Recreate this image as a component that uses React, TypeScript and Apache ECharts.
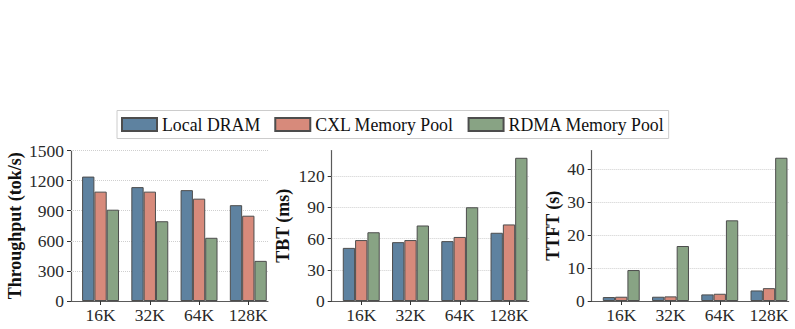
import React, { useEffect, useRef } from "react";
import * as echarts from "echarts";

// Context lengths on the x axis
const categories = ["16K", "32K", "64K", "128K"];
const seriesNames = ["Local DRAM", "CXL Memory Pool", "RDMA Memory Pool"];

// Throughput (tok/s)
const throughputLocal = [1240, 1135, 1105, 955];
const throughputCxl = [1090, 1090, 1020, 850];
const throughputRdma = [910, 795, 630, 400];

// Time between tokens (ms)
const tbtLocal = [51, 56.5, 57.5, 65.5];
const tbtCxl = [58.5, 58.5, 61.5, 73.5];
const tbtRdma = [66, 72.5, 90, 137.5];

// Time to first token (s)
const ttftLocal = [1.2, 1.3, 2.0, 3.2];
const ttftCxl = [1.3, 1.4, 2.2, 3.9];
const ttftRdma = [9.4, 16.7, 24.5, 43.5];

// Tick values of the three y axes
const throughputTicks = [0, 300, 600, 900, 1200, 1500];
const tbtTicks = [0, 30, 60, 90, 120];
const ttftTicks = [0, 10, 20, 30, 40];

const COLORS = ["#5e82a0", "#d78a7b", "#88a384"];
const FONT = "Liberation Serif, Times New Roman, serif";

const panels = [
  { name: "Throughput (tok/s)", data: [throughputLocal, throughputCxl, throughputRdma], ticks: throughputTicks, max: 1500, left: 71, nameGap: 47 },
  { name: "TBT (ms)", data: [tbtLocal, tbtCxl, tbtRdma], ticks: tbtTicks, max: 144.5, left: 331.7, nameGap: 40 },
  { name: "TTFT (s)", data: [ttftLocal, ttftCxl, ttftRdma], ticks: ttftTicks, max: 45.7, left: 591.7, nameGap: 30 },
];

const catIndex = categories.map((_, i) => i);

export default function App() {
  const ref = useRef<HTMLDivElement>(null);

  useEffect(() => {
    if (!ref.current) return;
    const chart = echarts.init(ref.current, undefined, { renderer: "svg" });

    const grid = panels.map((p) => ({
      left: p.left,
      top: 150.5,
      width: 197,
      height: 150.5,
      outerBoundsMode: "none",
    }));

    const xAxis = panels.map((_, i) => ({
      type: "value",
      gridIndex: i,
      min: -0.6,
      max: 3.4,
      axisLine: { show: true, onZero: false, lineStyle: { color: "#5a5a5a", width: 1.2 } },
      axisTick: { show: true, length: 4, customValues: catIndex, lineStyle: { color: "#333", width: 1 } },
      axisLabel: {
        customValues: catIndex,
        formatter: (v: number) => categories[Math.round(v)] ?? "",
        fontFamily: FONT,
        fontSize: 17.5,
        color: "#2a2a2a",
        margin: 5,
      },
      splitLine: { show: false },
    }));

    const yAxis = panels.map((p, i) => ({
      type: "value",
      gridIndex: i,
      min: 0,
      max: p.max,
      name: p.name,
      nameLocation: "middle",
      nameGap: p.nameGap,
      nameTextStyle: { fontFamily: FONT, fontSize: 18, fontWeight: "bold", color: "#111" },
      axisLine: { show: true, onZero: false, lineStyle: { color: "#5a5a5a", width: 1.2 } },
      axisTick: { show: true, length: 4, customValues: p.ticks, lineStyle: { color: "#333", width: 1 } },
      axisLabel: {
        customValues: p.ticks,
        formatter: (v: number) => String(v),
        fontFamily: FONT,
        fontSize: 17.5,
        color: "#2a2a2a",
        margin: 7,
      },
      splitLine: { show: false },
    }));

    const series: any[] = [];
    panels.forEach((p, pi) => {
      p.data.forEach((vals, si) => {
        series.push({
          type: "bar",
          name: seriesNames[si],
          xAxisIndex: pi,
          yAxisIndex: pi,
          barWidth: "25%",
          barGap: "0%",
          z: 3,
          itemStyle: { color: COLORS[si], borderColor: "#4d4d4d", borderWidth: 1 },
          data: vals.map((v, ci) => [ci, v]),
        });
      });
      // dotted horizontal grid lines at the labelled ticks
      series.push({
        type: "line",
        xAxisIndex: pi,
        yAxisIndex: pi,
        data: [],
        z: 1,
        silent: true,
        markLine: {
          silent: true,
          symbol: ["none", "none"],
          label: { show: false },
          z: 1,
          lineStyle: { type: "dotted", color: "#cfcfcf", width: 1 },
          data: p.ticks.filter((t) => t > 0).map((t) => ({ yAxis: t })),
        },
      });
    });

    chart.setOption({
      animation: false,
      backgroundColor: "#ffffff",
      textStyle: { fontFamily: FONT },
      legend: {
        data: seriesNames,
        left: 117,
        top: 110.5,
        icon: "rect",
        itemWidth: 35,
        itemHeight: 13,
        itemGap: 14,
        padding: [5, 4, 5, 4],
        borderColor: "#cccccc",
        borderWidth: 1,
        textStyle: { fontFamily: FONT, fontSize: 17.8, color: "#111" },
      },
      grid,
      xAxis,
      yAxis,
      series,
    });

    return () => chart.dispose();
  }, []);

  return (
    <div
      ref={ref}
      style={{ position: "fixed", left: 0, top: 0, width: 795, height: 329, background: "#fff" }}
    />
  );
}
